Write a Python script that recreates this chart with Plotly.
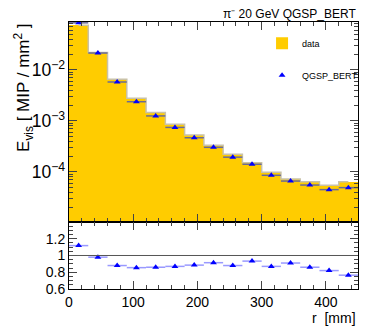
import plotly.graph_objects as go

bin_centers = [15, 45, 75, 105, 135, 165, 195, 225, 255, 285, 315, 345, 375, 405, 435]
data_vals = [0.075, 0.0219, 0.0066, 0.00279, 0.00146, 8.6e-4, 5.3e-4, 3.33e-4,
             2.22e-4, 1.52e-4, 9.9e-5, 7.3e-5, 6.45e-5, 5.5e-5, 6.45e-5]
ratio_vals = [1.118, 0.98, 0.88, 0.855, 0.86, 0.87, 0.885, 0.914,
              0.88, 0.933, 0.87, 0.91, 0.86, 0.82, 0.765]
mc_vals = [d * r for d, r in zip(data_vals, ratio_vals)]
half_width = [15] * len(bin_centers)

FONT = "Liberation Sans, Arial, sans-serif"

fig = go.Figure()
fig.add_trace(go.Bar(x=bin_centers, y=data_vals, width=30, name="data",
                     marker=dict(color="#ffcc00", line=dict(width=0)),
                     xaxis="x", yaxis="y", legendgroup="a"))
fig.add_trace(go.Scatter(x=bin_centers, y=data_vals, mode="lines", showlegend=False,
                         line=dict(shape="hvh", color="#c9c2a8", width=1.5),
                         hoverinfo="skip", xaxis="x", yaxis="y"))
fig.add_trace(go.Scatter(x=bin_centers, y=mc_vals, mode="markers", name="QGSP_BERT",
                         marker=dict(symbol="triangle-up", size=6, color="#0000ff"),
                         error_x=dict(type="data", array=half_width, width=0,
                                      color="#6a6a96", thickness=1.5),
                         xaxis="x", yaxis="y", legendgroup="b"))
fig.add_trace(go.Scatter(x=bin_centers, y=ratio_vals, mode="markers", showlegend=False,
                         marker=dict(symbol="triangle-up", size=6, color="#0000ff"),
                         error_x=dict(type="data", array=half_width, width=0,
                                      color="#9999ff", thickness=1.5),
                         xaxis="x2", yaxis="y2"))

axis_common = dict(showline=True, linecolor="black", linewidth=1, mirror="allticks",
                   ticks="inside", showgrid=False, zeroline=False, automargin=False,
                   tickfont=dict(family=FONT, size=14, color="black"))

# page body has an 8px default margin, so the figure is 8px smaller on each axis
fig.update_layout(
    width=359, height=319,
    margin=dict(l=61, r=4, t=14, b=38),
    paper_bgcolor="white", plot_bgcolor="white",
    bargap=0,
    font=dict(family=FONT, color="black"),
    showlegend=True,
    legend=dict(x=0.668, y=0.975, xanchor="left", yanchor="top",
                bgcolor="rgba(0,0,0,0)", font=dict(size=9, family=FONT),
                tracegroupgap=13, itemwidth=30),
    xaxis=dict(domain=[0, 1], range=[0, 450], anchor="y", showticklabels=False,
               dtick=100, ticklen=8,
               minor=dict(ticks="inside", ticklen=4, dtick=20),
               **axis_common),
    yaxis=dict(domain=[0.251, 1], type="log", range=[-4.98, -1.06], anchor="x",
               dtick=1, exponentformat="power", ticklen=8,
               minor=dict(ticks="inside", ticklen=4),
               **axis_common),
    xaxis2=dict(domain=[0, 1], range=[0, 450], anchor="y2", dtick=100, ticklen=8,
                minor=dict(ticks="inside", ticklen=4, dtick=20),
                **axis_common),
    yaxis2=dict(domain=[0, 0.251], range=[0.6, 1.4], anchor="x2",
                tickvals=[0.6, 0.8, 1, 1.2], ticktext=["0.6", "0.8", "1", "1.2"],
                ticklen=8, minor=dict(ticks="inside", ticklen=4, dtick=0.05),
                **axis_common),
    shapes=[dict(type="line", xref="x2", yref="y2", x0=0, x1=450, y0=1, y1=1,
                 line=dict(color="#555555", width=1))],
    annotations=[
        dict(text="π⁻ 20 GeV QGSP_BERT", xref="paper", yref="paper",
             x=1, y=1, xanchor="right", yanchor="bottom", yshift=-1, showarrow=False,
             font=dict(size=12, family=FONT)),
        dict(text="r  [mm]", xref="paper", yref="paper", x=1, y=0, xanchor="right",
             yanchor="top", yshift=-19, showarrow=False, font=dict(size=14, family=FONT)),
        dict(text="E<sub>vis</sub> [ MIP / mm<sup>2</sup> ]", xref="paper", yref="paper",
             x=0, y=0.753, xanchor="center", yanchor="middle", xshift=-45, textangle=-90,
             showarrow=False, font=dict(size=17, family=FONT)),
    ],
)

fig.write_html("out.html")
